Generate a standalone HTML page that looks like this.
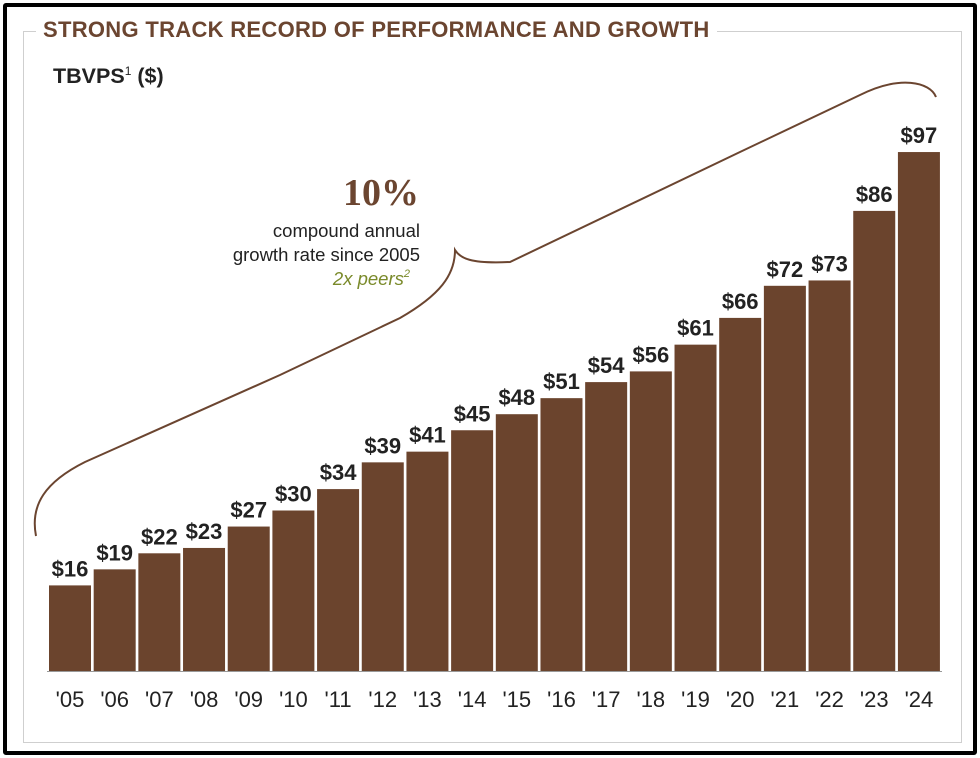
<!DOCTYPE html>
<html><head><meta charset="utf-8"><style>
html,body{margin:0;padding:0;background:#fff;}
body{width:980px;height:758px;position:relative;overflow:hidden;font-family:"Liberation Sans",Arial,sans-serif;}
#frame{position:absolute;left:3px;top:3px;width:966px;height:744px;border:4px solid #000;border-radius:3px;}
#inner{position:absolute;left:23px;top:31px;width:937px;height:710px;border:1.5px solid #cfcfcf;}
#title{position:absolute;left:36px;top:17px;background:#fff;padding:0 7px;font-weight:bold;font-size:22px;color:#6b4530;letter-spacing:0.3px;}
#ytitle{position:absolute;left:53px;top:64px;font-weight:bold;font-size:21.5px;color:#222;}
#ytitle sup{font-size:12px;font-weight:normal;}
</style></head><body>
<div id="frame"></div>
<div id="inner"></div>
<div id="title">STRONG TRACK RECORD OF PERFORMANCE AND GROWTH</div>
<div id="ytitle">TBVPS<sup>1</sup> ($)</div>
<svg id="chart" width="980" height="758" style="position:absolute;left:0;top:0">
<path d="M36,536 C30,505 45,482 85,462 L280,375 L400,318 C440,295 455,275 455,250 C460,258 470,264 510,262 L740,152 L860,95 C900,75 930,82 936,97" fill="none" stroke="#6b4530" stroke-width="2"/>
<text x="381" y="205" text-anchor="middle" font-family="Liberation Serif,serif" font-weight="bold" font-size="38" fill="#6b4530">10%</text>
<text x="420" y="237" text-anchor="end" font-size="18.5" fill="#222">compound annual</text>
<text x="420" y="261" text-anchor="end" font-size="18.5" fill="#222">growth rate since 2005</text>
<text x="410" y="285" text-anchor="end" font-size="18.5" font-style="italic" fill="#7a8a2a">2x peers<tspan font-size="11" dy="-8">2</tspan></text>
<g id="bars"></g>
<line x1="47" y1="671.5" x2="942" y2="671.5" stroke="#999" stroke-width="1"/>
</svg>
<script>
const categories=["'05","'06","'07","'08","'09","'10","'11","'12","'13","'14","'15","'16","'17","'18","'19","'20","'21","'22","'23","'24"];
const values=[16,19,22,23,27,30,34,39,41,45,48,51,54,56,61,66,72,73,86,97];
const valueLabels=["$16","$19","$22","$23","$27","$30","$34","$39","$41","$45","$48","$51","$54","$56","$61","$66","$72","$73","$86","$97"];
const x0=49,step=44.68,bw=42,base=671,scale=5.35;
function xPos(i){return x0+i*step;}
function yPos(v){return base-v*scale;}
const g=document.getElementById('bars');
const ns='http://www.w3.org/2000/svg';
values.forEach((v,i)=>{
 const r=document.createElementNS(ns,'rect');
 r.setAttribute('x',xPos(i));r.setAttribute('y',yPos(v));r.setAttribute('width',bw);r.setAttribute('height',base-yPos(v));r.setAttribute('fill','#6b442d');
 
 
 g.appendChild(r);
 const t=document.createElementNS(ns,'text');
 t.setAttribute('x',xPos(i)+bw/2);t.setAttribute('y',yPos(v)-9);t.setAttribute('text-anchor','middle');t.setAttribute('font-weight','bold');t.setAttribute('font-size','22');t.setAttribute('fill','#222');
 t.textContent=valueLabels[i];
 
 
 g.appendChild(t);
 const c=document.createElementNS(ns,'text');
 c.setAttribute('x',xPos(i)+bw/2);c.setAttribute('y',707);c.setAttribute('text-anchor','middle');c.setAttribute('font-size','22');c.setAttribute('fill','#222');
 c.textContent=categories[i];
 
 
 g.appendChild(c);
});
</script>
</body></html>
